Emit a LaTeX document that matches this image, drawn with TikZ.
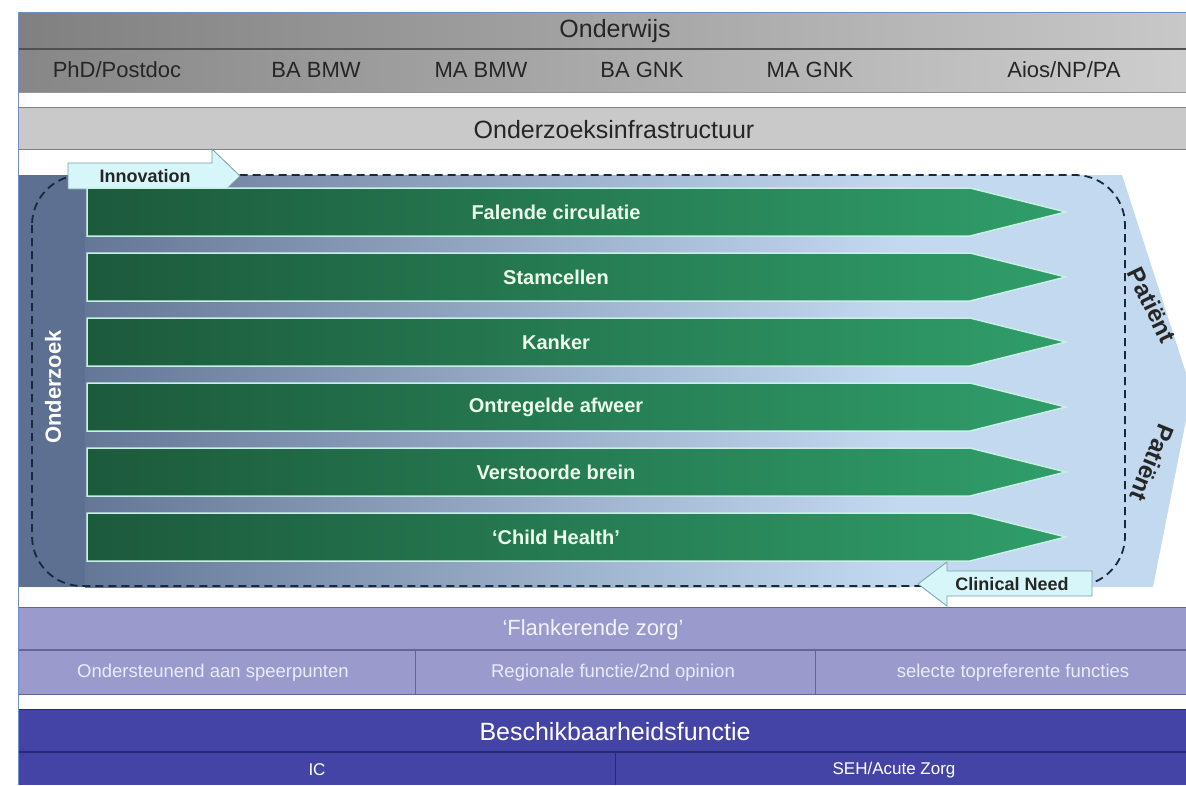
\documentclass[tikz,border=0pt]{standalone}
\usepackage{fontspec}
\setmainfont{Liberation Sans}
\usetikzlibrary{positioning}
\definecolor{frameblue}{RGB}{112, 142, 200}
\definecolor{graydark}{RGB}{128, 128, 128}
\definecolor{graylight}{RGB}{200, 200, 200}
\definecolor{grayline}{RGB}{80, 80, 80}
\definecolor{infragray}{RGB}{201, 201, 201}
\definecolor{flanklila}{RGB}{154, 154, 204}
\definecolor{flankline}{RGB}{100, 100, 150}
\definecolor{beschikblue}{RGB}{68, 68, 166}
\definecolor{beschikline}{RGB}{40, 40, 120}
\definecolor{slate}{RGB}{93, 112, 145}
\definecolor{skyblue}{RGB}{195, 217, 240}
\definecolor{bardark}{RGB}{28, 90, 60}
\definecolor{barlight}{RGB}{48, 158, 106}
\definecolor{barline}{RGB}{200, 240, 230}
\definecolor{callfill}{RGB}{214, 246, 250}
\definecolor{callline}{RGB}{120, 160, 165}
\definecolor{dashcol}{RGB}{25, 40, 60}

\begin{document}
\begin{tikzpicture}[x=1pt, y=-1pt,
    headtext/.style={font=\fontsize{25}{25}\selectfont, text=black!85},
    subtext/.style={font=\fontsize{22}{22}\selectfont, text=black!85},
    flanktext/.style={font=\fontsize{18.5}{18.5}\selectfont, text=white!92!blue},
    bartext/.style={font=\bfseries\fontsize{20}{20}\selectfont, text=white!92!green},
    calltext/.style={font=\bfseries\fontsize{18}{18}\selectfont, text=black!85},
    sidetext/.style={font=\bfseries\fontsize{24}{24}\selectfont, text=black!85},
    callout/.style={fill=callfill, draw=callline, line width=0.8pt},
    dashline/.style={draw=dashcol, line width=1.8pt, dash pattern=on 8pt off 5pt}]
    \useasboundingbox (0,0) rectangle (1186,785);
    \fill[white] (0,0) rectangle (1186,785);

    % Onderwijs
    \shade[left color=graydark, right color=graylight] (18,12) rectangle (1186,49);
    \shade[left color=graydark!95!white, right color=graylight!90!white] (18,49) rectangle (1186,92);
    \draw[grayline, line width=1.2pt] (18,49) -- (1186,49);
    \draw[grayline!60] (18,92) -- (1186,92);
    \node[headtext] (onderwijs) at (615,31) {Onderwijs};
    \node[subtext] (phd)  at (117,70) {PhD/Postdoc};
    \node[subtext] (babmw) at (316,70) {BA BMW};
    \node[subtext] (mabmw) at (481,70) {MA BMW};
    \node[subtext] (bagnk) at (642,70) {BA GNK};
    \node[subtext] (magnk) at (810,70) {MA GNK};
    \node[subtext] (aios)  at (1064,70) {Aios/NP/PA};

    % Onderzoeksinfrastructuur
    \fill[infragray] (18,107) rectangle (1186,149);
    \draw[graydark] (18,107) -- (1186,107);
    \draw[graydark] (18,149) -- (1186,149);
    \node[headtext] (infra) at (614,130) {Onderzoeksinfrastructuur};

    % Onderzoek -> Patient
    \fill[skyblue] (18,175) -- (1122,175) -- (1186,373) -- (1186,420) -- (1153,587) -- (18,587) -- cycle;
    \shade[left color=slate!95!white, right color=skyblue] (85,175) rectangle (900,587);
    \fill[slate] (18,175) rectangle (85,587);
    \draw[dashline, rounded corners=50pt] (32,175) rectangle (1125,586);

    \draw[callout] (68,163) -- (212,163) -- (212,149) -- (240,176) -- (212,203) -- (212,189) -- (68,189) -- cycle;
    \node[calltext] (innovation) at (145,176) {Innovation};

    \foreach \lbl [count=\i from 0] in {Falende circulatie, Stamcellen, Kanker, Ontregelde afweer, Verstoorde brein, ‘Child Health’}{
        \pgfmathsetmacro\ytop{188+65*\i}
        \pgfmathsetmacro\ybot{\ytop+48}
        \pgfmathsetmacro\ymid{\ytop+24}
        \shade[left color=bardark, right color=barlight, draw=barline, line width=1.5pt]
            (87,\ytop) -- (970,\ytop) -- (1066,\ymid) -- (970,\ybot) -- (87,\ybot) -- cycle;
        \node[bartext] (bar\i) at (556,\ymid) {\lbl};
    }

    \draw[callout] (1092,571) -- (947,571) -- (947,562) -- (918,584) -- (947,606) -- (947,596) -- (1092,596) -- cycle;
    \node[calltext] (clinical) at (1012,584) {Clinical Need};

    \node[font=\bfseries\fontsize{22}{22}\selectfont, text=white, rotate=90] (onderzoek) at (53,387) {Onderzoek};
    \node[sidetext, rotate=-64] (patient1) at (1152,305) {Patiënt};
    \node[sidetext, rotate=-112] (patient2) at (1152,463) {Patiënt};

    % Flankerende zorg
    \fill[flanklila] (18,607) rectangle (1186,694);
    \draw[flankline] (18,607) -- (1186,607);
    \draw[flankline, line width=1.2pt] (18,650) -- (1186,650);
    \draw[flankline] (18,694) -- (1186,694);
    \draw[flankline] (415,650) -- (415,694);
    \draw[flankline] (815,650) -- (815,694);
    \node[font=\fontsize{22}{22}\selectfont, text=white!95!blue] (flank) at (593,630) {‘Flankerende zorg’};
    \node[flanktext] (steun) at (213,673) {Ondersteunend aan speerpunten};
    \node[flanktext] (regio) at (613,673) {Regionale functie/2nd opinion};
    \node[flanktext] (topref) at (1013,673) {selecte topreferente functies};

    % Beschikbaarheidsfunctie
    \fill[beschikblue] (18,709) rectangle (1186,785);
    \draw[beschikline] (18,709) -- (1186,709);
    \draw[beschikline, line width=1.2pt] (18,752) -- (1186,752);
    \draw[beschikline] (615,752) -- (615,785);
    \node[font=\fontsize{25}{25}\selectfont, text=white] (beschik) at (615,732) {Beschikbaarheidsfunctie};
    \node[flanktext, text=white, font=\fontsize{17}{17}\selectfont] (ic) at (317,770) {IC};
    \node[flanktext, text=white, font=\fontsize{17}{17}\selectfont] (seh) at (894,770) {SEH/Acute Zorg};

    \draw[frameblue, line width=1pt] (18,785) -- (18,12) -- (1186,12);
\end{tikzpicture}
\end{document}
